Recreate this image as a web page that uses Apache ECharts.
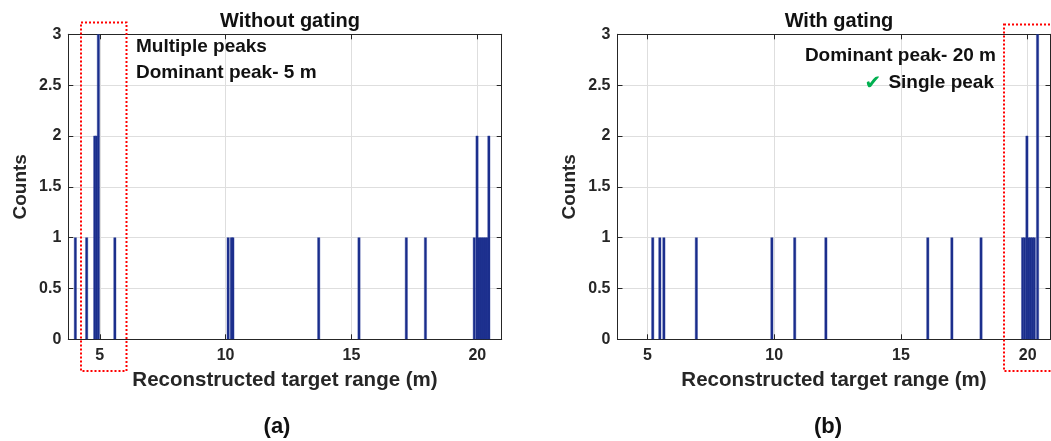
<!DOCTYPE html>
<html><head><meta charset="utf-8">
<script src="https://cdn.jsdelivr.net/npm/echarts@6/dist/echarts.min.js"></script>
<style>html,body{margin:0;padding:0;background:#fff}#c{width:1051px;height:441px}</style>
</head><body><div id="c"></div><script>
// ---- data ----
const leftTitle = 'Without gating';
const rightTitle = 'With gating';
const xName = 'Reconstructed target range (m)';
const yName = 'Counts';
const xTicks = [5, 10, 15, 20];
const yTicks = [0, 0.5, 1, 1.5, 2, 2.5, 3];
const leftRangeM = [4.03, 4.48, 4.80, 4.87, 4.945, 5.60, 10.10, 10.23, 10.29, 13.70, 15.30, 17.18, 17.94,
  19.88, 19.99, 20.07, 20.15, 20.23, 20.31, 20.39, 20.46];
const leftCounts = [1, 1, 2, 2, 3, 1, 1, 1, 1, 1, 1, 1, 1,
  1, 2, 1, 1, 1, 1, 1, 2];
const rightRangeM = [5.21, 5.49, 5.65, 6.93, 9.91, 10.81, 12.04, 16.06, 17.01, 18.16,
  19.80, 19.88, 19.97, 20.05, 20.12, 20.19, 20.26, 20.39];
const rightCounts = [1, 1, 1, 1, 1, 1, 1, 1, 1, 1,
  1, 1, 2, 1, 1, 1, 1, 3];
const leftXLim = [3.75, 20.97];
const rightXLim = [3.82, 20.9];

// ---- style ----
const BIN = 0.09;
const BAR = '#1a2d8b';
const EDGE = '#2c409c';
const AX = '#262626';
const GRIDC = '#dedede';
const FONT = '"Liberation Sans", Arial, sans-serif';

const chart = echarts.init(document.getElementById('c'), null, {renderer: 'canvas'});

function renderBar(params, api) {
  const x = api.value(0), y = api.value(1);
  const p0 = api.coord([x - BIN / 2, y]);
  const p1 = api.coord([x + BIN / 2, 0]);
  return {
    type: 'rect',
    shape: {x: p0[0], y: p0[1], width: p1[0] - p0[0], height: p1[1] - p0[1]},
    style: {fill: BAR, stroke: EDGE, lineWidth: 0.4}
  };
}

function xAxisPair(gridIndex, lim) {
  return [
    {
      type: 'value', gridIndex, position: 'bottom', min: lim[0], max: lim[1],
      name: xName, nameLocation: 'middle', nameGap: 31,
      nameTextStyle: {fontFamily: FONT, fontWeight: 'bold', fontSize: 20.5, color: AX},
      axisLine: {show: true, onZero: false, lineStyle: {color: AX, width: 1}},
      axisTick: {show: true, inside: true, length: 5, customValues: xTicks, lineStyle: {color: AX}},
      axisLabel: {show: true, customValues: xTicks, margin: 8, fontFamily: FONT, fontWeight: 'bold', fontSize: 16, color: AX},
      splitLine: {show: true, lineStyle: {color: GRIDC, width: 1}}
    },
    {
      type: 'value', gridIndex, position: 'top', min: lim[0], max: lim[1],
      axisLine: {show: true, onZero: false, lineStyle: {color: AX, width: 1}},
      axisTick: {show: true, inside: true, length: 5, customValues: xTicks, lineStyle: {color: AX}},
      axisLabel: {show: false}, splitLine: {show: false}
    }
  ];
}
function yAxisPair(gridIndex, gap) {
  return [
    {
      type: 'value', gridIndex, position: 'left', min: 0, max: 3, interval: 0.5,
      name: yName, nameLocation: 'middle', nameGap: gap, nameRotate: 90,
      nameTextStyle: {fontFamily: FONT, fontWeight: 'bold', fontSize: 19, color: AX},
      axisLine: {show: true, onZero: false, lineStyle: {color: AX, width: 1}},
      axisTick: {show: true, inside: true, length: 5, lineStyle: {color: AX}},
      axisLabel: {show: true, margin: 7, fontFamily: FONT, fontWeight: 'bold', fontSize: 16, color: AX},
      splitLine: {show: true, lineStyle: {color: GRIDC, width: 1}}
    },
    {
      type: 'value', gridIndex, position: 'right', min: 0, max: 3, interval: 0.5,
      axisLine: {show: true, onZero: false, lineStyle: {color: AX, width: 1}},
      axisTick: {show: true, inside: true, length: 5, lineStyle: {color: AX}},
      axisLabel: {show: false}, splitLine: {show: false}
    }
  ];
}

const textBold = (extra) => Object.assign({fontFamily: FONT, fontWeight: 'bold', fill: '#111'}, extra);

chart.setOption({
  animation: false,
  backgroundColor: '#fff',
  grid: [
    {left: 68.3, top: 34.3, width: 433.4, height: 305, containLabel: false},
    {left: 617.5, top: 34.3, width: 433, height: 305, containLabel: false}
  ],
  title: [
    {text: leftTitle, left: 285, top: 6, textAlign: 'center',
     textStyle: {fontFamily: FONT, fontWeight: 'bold', fontSize: 20, color: '#111'}},
    {text: rightTitle, left: 834, top: 6, textAlign: 'center',
     textStyle: {fontFamily: FONT, fontWeight: 'bold', fontSize: 20, color: '#111'}}
  ],
  xAxis: [...xAxisPair(0, leftXLim), ...xAxisPair(1, rightXLim)],
  yAxis: [...yAxisPair(0, 38), ...yAxisPair(1, 38)],
  series: [
    {type: 'custom', xAxisIndex: 0, yAxisIndex: 0, renderItem: renderBar, clip: true,
     encode: {x: 0, y: 1}, data: leftRangeM.map((v, i) => [v, leftCounts[i]])},
    {type: 'custom', xAxisIndex: 2, yAxisIndex: 2, renderItem: renderBar, clip: true,
     encode: {x: 0, y: 1}, data: rightRangeM.map((v, i) => [v, rightCounts[i]])}
  ],
  graphic: [
    {type: 'text', left: 136, top: 37, z: 100, style: textBold({text: 'Multiple peaks', fontSize: 19})},
    {type: 'text', left: 136, top: 63, z: 100, style: textBold({text: 'Dominant peak- 5 m', fontSize: 19})},
    {type: 'text', x: 996, y: 56, z: 100, style: textBold({text: 'Dominant peak- 20 m', fontSize: 19, align: 'right', verticalAlign: 'middle'})},
    {type: 'text', x: 994, y: 83, z: 100, style: textBold({text: 'Single peak', fontSize: 19, align: 'right', verticalAlign: 'middle'})},
    {type: 'text', x: 873, y: 84, z: 100, style: {text: '\u2714', fontFamily: '"DejaVu Sans", sans-serif', fontSize: 20, fill: '#00b050', align: 'center', verticalAlign: 'middle'}},
    {type: 'rect', z: 100, shape: {x: 81, y: 22.5, width: 45.5, height: 348.5},
     style: {fill: 'none', stroke: '#ff0000', lineWidth: 2, lineDash: [2, 2]}},
    {type: 'rect', z: 100, shape: {x: 1004, y: 24.5, width: 60, height: 346.5},
     style: {fill: 'none', stroke: '#ff0000', lineWidth: 2, lineDash: [2, 2]}},
    {type: 'text', x: 277, y: 427, z: 100, style: textBold({text: '(a)', fontSize: 22, align: 'center', verticalAlign: 'middle'})},
    {type: 'text', x: 828, y: 427, z: 100, style: textBold({text: '(b)', fontSize: 22, align: 'center', verticalAlign: 'middle'})}
  ]
});
</script></body></html>
